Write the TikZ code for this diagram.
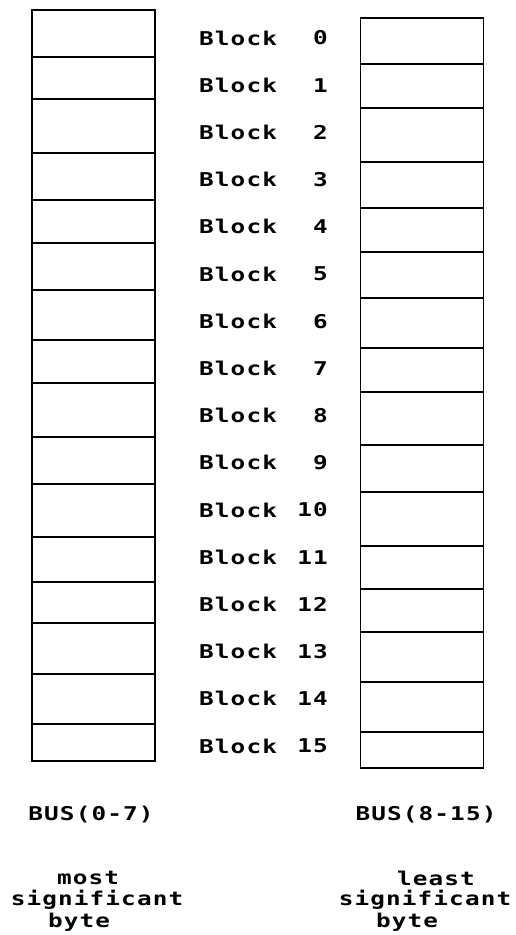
\documentclass[tikz,border=0pt]{standalone}
\usepackage{fontspec}
\newfontfamily\plotfont{DejaVu Sans Mono}[FakeStretch=1.28,LetterSpace=6]
\tikzset{
  cell/.style={draw=black, line width=1.8pt, inner sep=0pt, outer sep=0pt, minimum width=123pt},
  lbl/.style={font=\plotfont\bfseries\fontsize{19pt}{22pt}\selectfont, inner sep=0pt, text=black}
}
\begin{document}
\begin{tikzpicture}[x=1pt,y=-1pt]
\useasboundingbox (0,0) rectangle (516,935);
\def\lys{{10,57,99,153,200,243,290,340,383,437,484,537,582,623,674,724,761}}
\def\rys{{18,64,108,162,208,252,298,348,392,445,492,546,589,632,682,732,768}}
\foreach \i in {0,...,15}{
  \pgfmathtruncatemacro\j{\i+1}
  \pgfmathsetmacro\ta{\lys[\i]}
  \pgfmathsetmacro\tb{\lys[\j]}
  \pgfmathsetmacro\ua{\rys[\i]}
  \pgfmathsetmacro\ub{\rys[\j]}
  \node[cell, minimum height={\tb-\ta}] (L\i) at (93.5, {(\ta+\tb)/2}) {};
  \node[cell, minimum height={\ub-\ua}] (R\i) at (422, {(\ua+\ub)/2}) {};
  \node[lbl, anchor=west] (B\i) at (199, {38+47.2*\i}) {Block};
  \node[lbl, anchor=east] (N\i) at (328, {38+47.2*\i}) {\i};
}
\node[lbl] (busl) at (91, 815) {BUS(0-7)};
\node[lbl] (busr) at (426, 815) {BUS(8-15)};
\node[lbl] (most) at (88, 878) {most};
\node[lbl] (sigl) at (97, 900) {significant};
\node[lbl] (bytl) at (79, 922) {byte};
\node[lbl] (least) at (436, 878) {least};
\node[lbl] (sigr) at (425, 900) {significant};
\node[lbl] (bytr) at (407, 922) {byte};
\end{tikzpicture}
\end{document}
